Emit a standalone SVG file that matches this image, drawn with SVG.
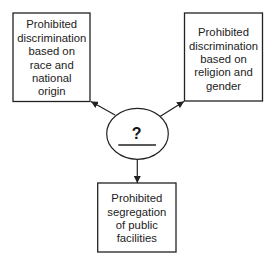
<svg xmlns="http://www.w3.org/2000/svg" width="271" height="264" viewBox="0 0 271 264">
<style>
.box{fill:#fff;stroke:#222;stroke-width:1.3}
.t{font-family:"Liberation Sans",Arial,sans-serif;font-size:11.3px;fill:#222;text-anchor:middle}
.c{stroke:#222;stroke-width:1.2;fill:none}
</style>
<defs>
<marker id="ah" viewBox="0 0 10 10" refX="10" refY="5" markerWidth="7" markerHeight="7" markerUnits="userSpaceOnUse" orient="auto">
<path d="M0,0 L10,5 L0,10 Z" fill="#222"/>
</marker>
</defs>
<rect width="271" height="264" fill="#fff"/>
<g id="connectors">
<line class="c" x1="115" y1="115" x2="91" y2="101.5" marker-end="url(#ah)"/>
<line class="c" x1="160" y1="116.5" x2="184" y2="101.5" marker-end="url(#ah)"/>
<line class="c" x1="137.3" y1="159.3" x2="137.3" y2="183" marker-end="url(#ah)"/>
</g>
<g id="node-left">
<rect class="box" x="13" y="13" width="77" height="88.5"/>
<text class="t"><tspan x="51.7" y="28.3">Prohibited</tspan><tspan x="51.7" y="41.7">discrimination</tspan><tspan x="51.7" y="55.2">based on</tspan><tspan x="51.7" y="68.6">race and</tspan><tspan x="51.7" y="82">national</tspan><tspan x="51.7" y="95.4">origin</tspan></text>
</g>
<g id="node-right">
<rect class="box" x="184.5" y="13" width="78" height="88"/>
<text class="t"><tspan x="223.5" y="36.3">Prohibited</tspan><tspan x="223.5" y="49.7">discrimination</tspan><tspan x="223.5" y="63">based on</tspan><tspan x="223.5" y="76.4">religion and</tspan><tspan x="223.5" y="89.6">gender</tspan></text>
</g>
<g id="node-center">
<ellipse cx="137.5" cy="133.8" rx="30.8" ry="25.5" fill="#fff" stroke="#222" stroke-width="1.2"/>
<text x="136.7" y="139.3" style="font-family:'Liberation Sans',Arial,sans-serif;font-size:16px;font-weight:bold;fill:#111;text-anchor:middle">?</text>
<line x1="118.3" y1="145" x2="156" y2="145" stroke="#222" stroke-width="1.3"/>
</g>
<g id="node-bottom">
<rect class="box" x="97.7" y="183" width="78.3" height="69"/>
<text class="t"><tspan x="136.8" y="202.3">Prohibited</tspan><tspan x="136.8" y="215.7">segregation</tspan><tspan x="136.8" y="229">of public</tspan><tspan x="136.8" y="242.4">facilities</tspan></text>
</g>
</svg>
